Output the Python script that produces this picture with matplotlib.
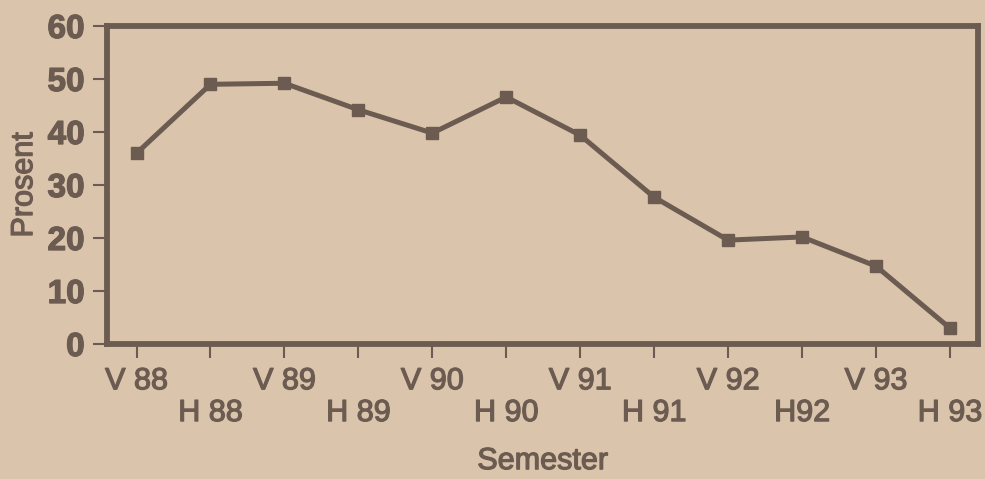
#!/usr/bin/env python3
import matplotlib
matplotlib.use('Agg')

import matplotlib.pyplot as plt
import matplotlib.patheffects as pe

# Data
semesters = ['V 88', 'H 88', 'V 89', 'H 89', 'V 90', 'H 90',
             'V 91', 'H 91', 'V 92', 'H92', 'V 93', 'H 93']
prosent = [36, 49, 49.2, 44.2, 39.8, 46.6, 39.4, 27.7, 19.6, 20.2, 14.7, 3.0]
yticks = [0, 10, 20, 30, 40, 50, 60]

paper = '#dac4ac'
ink = '#6b5b50'
# printed text looks a bit heavier than plain regular weight
thick = [pe.withStroke(linewidth=0.9, foreground=ink)]

plt.rcParams['font.family'] = ['Liberation Sans', 'DejaVu Sans']

fig = plt.figure(figsize=(9.85, 4.79), dpi=100, facecolor=paper)
ax = fig.add_axes([0.1086, 0.2818, 0.8843, 0.6639], facecolor=paper)

x = list(range(len(semesters)))
ax.plot(x, prosent, color=ink, linewidth=3.6, marker='s', markersize=8,
        markerfacecolor=ink, markeredgecolor=ink)

ax.set_xlim(-0.4, 11.38)
ax.set_ylim(0, 60)

# alternate V / H labels on two rows
labels = [s if i % 2 == 0 else '\n' + s for i, s in enumerate(semesters)]
ax.set_xticks(x)
ax.set_xticklabels(labels, fontsize=22, color=ink)
for lbl in ax.get_xticklabels():
    lbl.set_linespacing(1.08)
    lbl.set_path_effects(thick)
ax.set_yticks(yticks)
ax.set_yticklabels([str(v) for v in yticks], fontsize=24, fontweight='bold', color=ink)
for lbl in ax.get_yticklabels():
    lbl.set_path_effects(thick)

ax.tick_params(axis='both', direction='out', length=10, width=1.5, color=ink, pad=6)

for sp in ax.spines.values():
    sp.set_color(ink)
    sp.set_linewidth(4.2)

ax.set_xlabel('Semester', fontsize=22, color=ink, labelpad=13, path_effects=thick)
ax.set_ylabel('Prosent', fontsize=22, color=ink, labelpad=6, path_effects=thick)

plt.savefig('out.png', dpi=100, facecolor=paper)
